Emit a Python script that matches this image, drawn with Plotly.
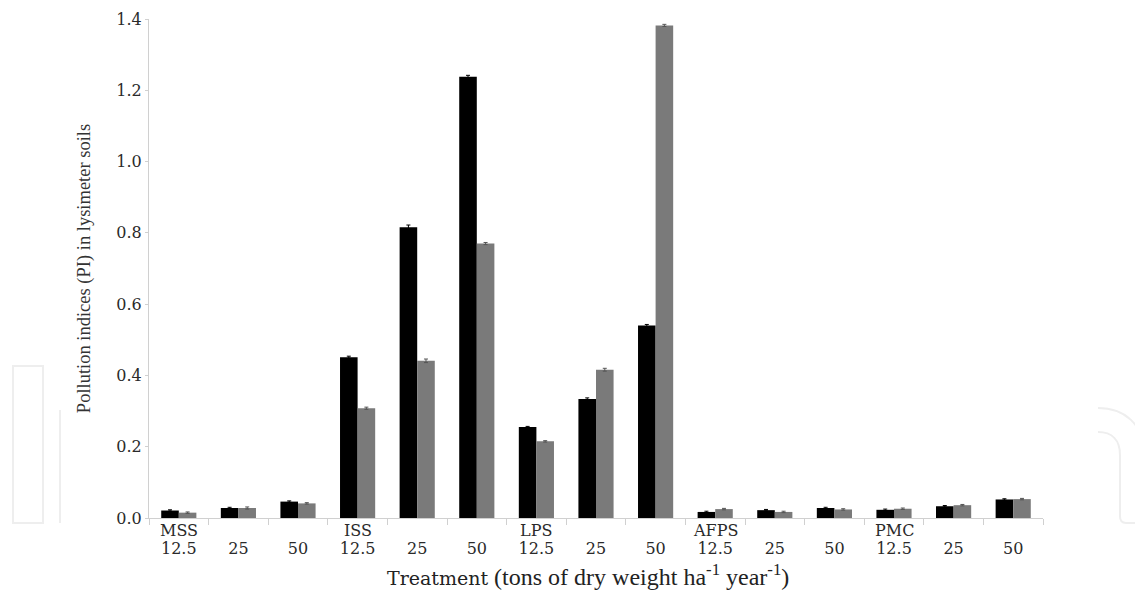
import plotly.graph_objects as go

# ---- data ----
groups = ["MSS", "", "", "ISS", "", "", "LPS", "", "", "AFPS", "", "", "PMC", "", ""]
doses = ["12.5", "25", "50"] * 5
series1 = [0.021, 0.028, 0.046, 0.451, 0.816, 1.238, 0.255, 0.334, 0.540,
           0.017, 0.022, 0.028, 0.023, 0.033, 0.052]
series2 = [0.015, 0.028, 0.041, 0.308, 0.441, 0.770, 0.215, 0.416, 1.382,
           0.025, 0.017, 0.024, 0.026, 0.036, 0.053]
err1 = [0.002, 0.002, 0.002, 0.003, 0.006, 0.004, 0.002, 0.003, 0.003,
        0.002, 0.002, 0.002, 0.002, 0.002, 0.002]
err2 = [0.002, 0.003, 0.002, 0.003, 0.005, 0.003, 0.002, 0.004, 0.003,
        0.002, 0.002, 0.002, 0.002, 0.002, 0.002]
yticks = [0.0, 0.2, 0.4, 0.6, 0.8, 1.0, 1.2, 1.4]

x = list(range(len(doses)))

fig = go.Figure()
fig.add_trace(go.Bar(x=x, y=series1, marker=dict(color="#000000", line=dict(width=0)),
                     error_y=dict(type="data", array=err1, color="#000000", thickness=1, width=2)))
fig.add_trace(go.Bar(x=x, y=series2, marker=dict(color="#7a7a7a", line=dict(width=0)),
                     error_y=dict(type="data", array=err2, color="#555555", thickness=1, width=2)))

OFF = 8  # page body margin
W, H = 1143 - OFF, 591 - OFF
L, R, T, B = 149 - OFF, 100, 19 - OFF, 73
pw, ph = W - L - R, H - T - B


def px(X, Y):
    """page pixel -> paper coordinates"""
    return (X - OFF - L) / pw, (H - B - (Y - OFF)) / ph


fig.update_layout(
    width=W, height=H,
    margin=dict(l=L, r=R, t=T, b=B, autoexpand=False),
    paper_bgcolor="white", plot_bgcolor="white",
    showlegend=False,
    barmode="group", bargap=0.41, bargroupgap=0,
    font=dict(family="DejaVu Serif", color="#333333"),
    xaxis=dict(
        range=[-0.5, 14.5],
        tickmode="array", tickvals=x, ticktext=doses,
        ticks="", showline=True, linecolor="#d0d0d0", linewidth=1,
        showgrid=False, zeroline=False,
        tickfont=dict(family="DejaVu Serif", size=16, color="#2a2a2a"),
        ticklabelstandoff=16,
        minor=dict(tickmode="array", tickvals=[i - 0.5 for i in range(len(doses) + 1)],
                   ticks="outside", ticklen=6, tickcolor="#d0d0d0", tickwidth=1, showgrid=False),
    ),
    yaxis=dict(
        range=[0, 1.4],
        tickmode="array", tickvals=yticks, ticktext=[f"{v:.1f}" for v in yticks],
        ticks="outside", ticklen=3, tickcolor="#d0d0d0",
        showline=True, linecolor="#d0d0d0", linewidth=1,
        showgrid=False, zeroline=False,
        tickfont=dict(family="DejaVu Serif", size=16, color="#2a2a2a"),
        title=dict(text="Pollution indices (PI) in lysimeter soils",
                   font=dict(family="Liberation Serif", size=18.5, color="#333333"),
                   standoff=20),
    ),
)

# group labels above dose labels
_, gy = px(0, 530)
for i, g in enumerate(groups):
    if g:
        fig.add_annotation(x=x[i], y=gy, xref="x", yref="paper", xanchor="center", yanchor="middle",
                           showarrow=False, text=g,
                           font=dict(family="DejaVu Serif", size=16, color="#2a2a2a"))

ax, ay = px(588, 575)
fig.add_annotation(
    x=ax, y=ay, xref="paper", yref="paper", xanchor="center", yanchor="middle",
    showarrow=False,
    text="<span style='font-family:DejaVu Serif;font-size:19px'>Treatment</span> "
         "(tons of dry weight ha<sup>-1</sup> year<sup>-1</sup>)",
    font=dict(family="Liberation Serif", size=24, color="#222222"),
)

# faint watermark outlines
wm = dict(color="#eeeeee", width=2)
x0, y0 = px(13, 366)
x1, y1 = px(43, 523)
fig.add_shape(type="rect", xref="paper", yref="paper", x0=x0, y0=y0, x1=x1, y1=y1, line=wm, layer="below")
lx, ly0 = px(60, 410)
_, ly1 = px(60, 523)
fig.add_shape(type="line", xref="paper", yref="paper", x0=lx, y0=ly0, x1=lx, y1=ly1, line=wm, layer="below")


def P(X, Y):
    a, b = px(X, Y)
    return f"{a:.4f},{b:.4f}"


path1 = f"M {P(1098,408)} C {P(1125,408)} {P(1143,425)} {P(1143,450)}"
path2 = (f"M {P(1098,432)} C {P(1112,432)} {P(1120,440)} {P(1120,455)} L {P(1120,516)} "
         f"C {P(1120,521)} {P(1122,523)} {P(1126,523)} L {P(1143,523)}")
fig.add_shape(type="path", xref="paper", yref="paper", path=path1, line=wm, layer="below")
fig.add_shape(type="path", xref="paper", yref="paper", path=path2, line=wm, layer="below")

fig.write_html("out.html")
